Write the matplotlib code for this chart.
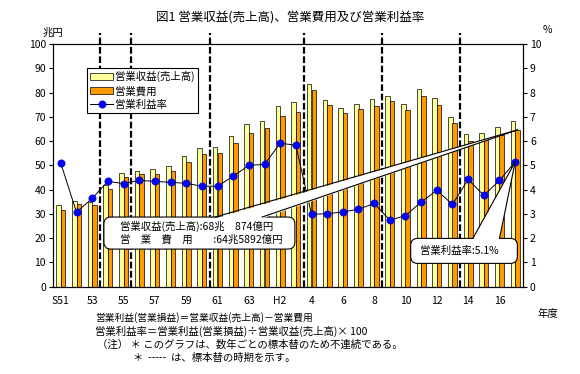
#!/usr/bin/env python3

import matplotlib

matplotlib.use("Agg")

import matplotlib.pyplot as plt
import numpy as np
from matplotlib.lines import Line2D
from matplotlib.patches import FancyBboxPatch, Patch, Polygon
from matplotlib.transforms import IdentityTransform

years = [
    "S51", "S52", "S53", "S54", "S55", "S56", "S57", "S58", "S59", "S60",
    "S61", "S62", "S63", "H1", "H2", "H3", "H4", "H5", "H6", "H7",
    "H8", "H9", "H10", "H11", "H12", "H13", "H14", "H15", "H16", "H17",
]
# 兆円
revenue = [
    33.5, 35.3, 34.9, 41.9, 46.8, 47.7, 48.5, 49.6, 53.7, 57.0,
    57.4, 62.1, 67.0, 68.1, 74.5, 76.1, 83.4, 76.9, 73.6, 75.3,
    77.2, 78.6, 75.3, 81.5, 77.7, 69.8, 62.8, 63.3, 65.7, 68.1,
]
expense = [
    31.5, 33.9, 33.5, 40.1, 45.1, 46.4, 46.4, 47.8, 51.4, 54.5,
    55.0, 59.1, 63.3, 65.5, 70.2, 71.9, 80.9, 74.9, 71.4, 73.4,
    74.3, 76.4, 72.7, 78.6, 75.0, 67.3, 60.0, 60.4, 62.5, 64.6,
]
# %
profit_rate = [
    5.08, 3.07, 3.64, 4.34, 4.25, 4.38, 4.34, 4.30, 4.26, 4.14,
    4.14, 4.55, 5.00, 5.04, 5.91, 5.83, 2.98, 3.01, 3.08, 3.19,
    3.43, 2.74, 2.93, 3.49, 3.97, 3.39, 4.42, 3.76, 4.38, 5.14,
]
tick_labels = ["S51", "53", "55", "57", "59", "61", "63", "H2",
               "4", "6", "8", "10", "12", "14", "16"]
# 標本替 (sample replacement) happened after these years
sample_change_after = ["S53", "S55", "S60", "H3", "H8", "H13"]

title = "図1 営業収益(売上高)、営業費用及び営業利益率"
series_labels = ["営業収益(売上高)", "営業費用", "営業利益率"]
callout_main = "営業収益(売上高):68兆　874億円\n営　業　費　用　　:64兆5892億円"
callout_rate = "営業利益率:5.1%"
notes = [
    "営業利益(営業損益)＝営業収益(売上高)－営業費用",
    "営業利益率＝営業利益(営業損益)÷営業収益(売上高)× 100",
    "（注） ＊ このグラフは、数年ごとの標本替のため不連続である。",
    "＊  -----  は、標本替の時期を示す。",
]

REV_COLOR = "#FFFF99"
EXP_COLOR = "#FF9900"
DOT_COLOR = "#0000FF"

W, H = 580, 374

plt.rcParams["font.family"] = ["Noto Sans CJK JP", "DejaVu Sans"]
plt.rcParams["font.size"] = 7.5


def px(x, y):
    # image pixel (top-left origin) -> figure fraction
    return x / W, 1 - y / H


def add_callout(fig, box, base, tip, text, text_x, fontsize):
    # box, base, tip and text_x are in display pixels
    x0, y0, x1, y1 = box
    tr = IdentityTransform()
    fig.add_artist(FancyBboxPatch(
        (x0, y0), x1 - x0, y1 - y0,
        boxstyle="round,pad=0,rounding_size=7",
        fc="white", ec="black", lw=0.8, transform=tr, zorder=5,
    ))
    xa, xb = base
    fig.add_artist(Polygon(
        [(xa, y1 - 1.5), (xb, y1 - 1.5), tip], closed=True,
        fc="white", ec="none", transform=tr, zorder=6,
    ))
    for xs in (xa, xb):
        fig.add_artist(Line2D([xs, tip[0]], [y1, tip[1]], color="black",
                              lw=0.8, transform=tr, zorder=7))
    fig.text(text_x, (y0 + y1) / 2, text, transform=tr, ha="left",
             va="center", fontsize=fontsize, linespacing=1.25, zorder=8)


def main() -> None:
    fig = plt.figure(figsize=(W / 100, H / 100), dpi=100)
    ax = fig.add_axes([53 / W, 1 - 286.7 / H, 470 / W, 242.7 / H])

    x = np.arange(len(years))
    width = 0.28
    ax.bar(x - width / 2, revenue, width=width, color=REV_COLOR,
           edgecolor="black", linewidth=0.5, zorder=2)
    ax.bar(x + width / 2, expense, width=width, color=EXP_COLOR,
           edgecolor="black", linewidth=0.5, zorder=2)

    ax.set_xlim(-0.5, len(years) - 0.5)
    ax.set_ylim(0, 100)
    ax.set_yticks(range(0, 101, 10))
    ax.set_xticks(x[::2], tick_labels)
    ax.tick_params(axis="x", length=0, pad=7)
    ax.tick_params(axis="y", direction="out", length=3, width=0.8, pad=2)
    for spine in ax.spines.values():
        spine.set_linewidth(0.8)

    for name in sample_change_after:
        xb = years.index(name) + 0.5
        ax.plot([xb, xb], [0, 104.5], color="black", lw=1.6,
                ls=(0, (3, 1.2)), clip_on=False, zorder=3)

    ax2 = ax.twinx()
    ax2.plot(x, profit_rate, color="black", lw=0.7, marker="o", ms=5.2,
             mfc=DOT_COLOR, mec="#0000CC", mew=0.5, zorder=4)
    ax2.set_ylim(0, 10)
    ax2.set_yticks(range(0, 11))
    ax2.tick_params(axis="y", direction="out", length=3, width=0.8, pad=2)
    for spine in ax2.spines.values():
        spine.set_linewidth(0.8)

    fig.text(*px(290, 18), title, ha="center", va="center", fontsize=9)
    fig.text(*px(43, 32.5), "兆円", ha="left", va="center")
    fig.text(*px(547, 30), "%", ha="center", va="center")
    fig.text(*px(548, 314), "年度", ha="center", va="center")
    note_x = [95, 95, 97, 133]
    note_size = [7, 7.5, 7.5, 7.5]
    for i, line in enumerate(notes):
        fig.text(*px(note_x[i], 318 + 13.3 * i), line, ha="left",
                 va="center", fontsize=note_size[i])

    handles = [
        Patch(fc=REV_COLOR, ec="black", lw=0.5),
        Patch(fc=EXP_COLOR, ec="black", lw=0.5),
        Line2D([], [], color="black", lw=0.7, marker="o", ms=5.2,
               mfc=DOT_COLOR, mec="#0000CC", mew=0.5),
    ]
    leg = fig.legend(handles, series_labels, loc="upper left",
                     bbox_to_anchor=px(87, 68), fancybox=False,
                     edgecolor="black", framealpha=1, borderpad=0.3,
                     labelspacing=0.35, handlelength=2.2, handleheight=0.6,
                     handletextpad=0.2, borderaxespad=0, fontsize=7.5)
    leg.get_frame().set_linewidth(0.8)

    # callouts, geometry in data units of the left axis
    to_disp = ax.transData.transform
    bx0, by0 = to_disp((2.75, 15.5))
    bx1, by1 = to_disp((14.94, 28.7))
    base_a = to_disp((9.85, 0))[0]
    base_b = to_disp((12.85, 0))[0]
    tip = to_disp((x[-1] + width / 2, expense[-1]))
    tx = to_disp((3.75, 0))[0]
    add_callout(fig, (bx0, by0, bx1, by1), (base_a, base_b), tip,
                callout_main, tx, 7.5)

    bx0, by0 = to_disp((22.33, 9.6))
    bx1, by1 = to_disp((29.14, 19.9))
    base_a = to_disp((26.3, 0))[0]
    base_b = to_disp((28.0, 0))[0]
    tip = ax2.transData.transform((x[-1], profit_rate[-1]))
    tx = to_disp((22.9, 0))[0]
    add_callout(fig, (bx0, by0, bx1, by1), (base_a, base_b), tip,
                callout_rate, tx, 7.5)

    fig.savefig("out.png", dpi=100)


if __name__ == "__main__":
    main()
